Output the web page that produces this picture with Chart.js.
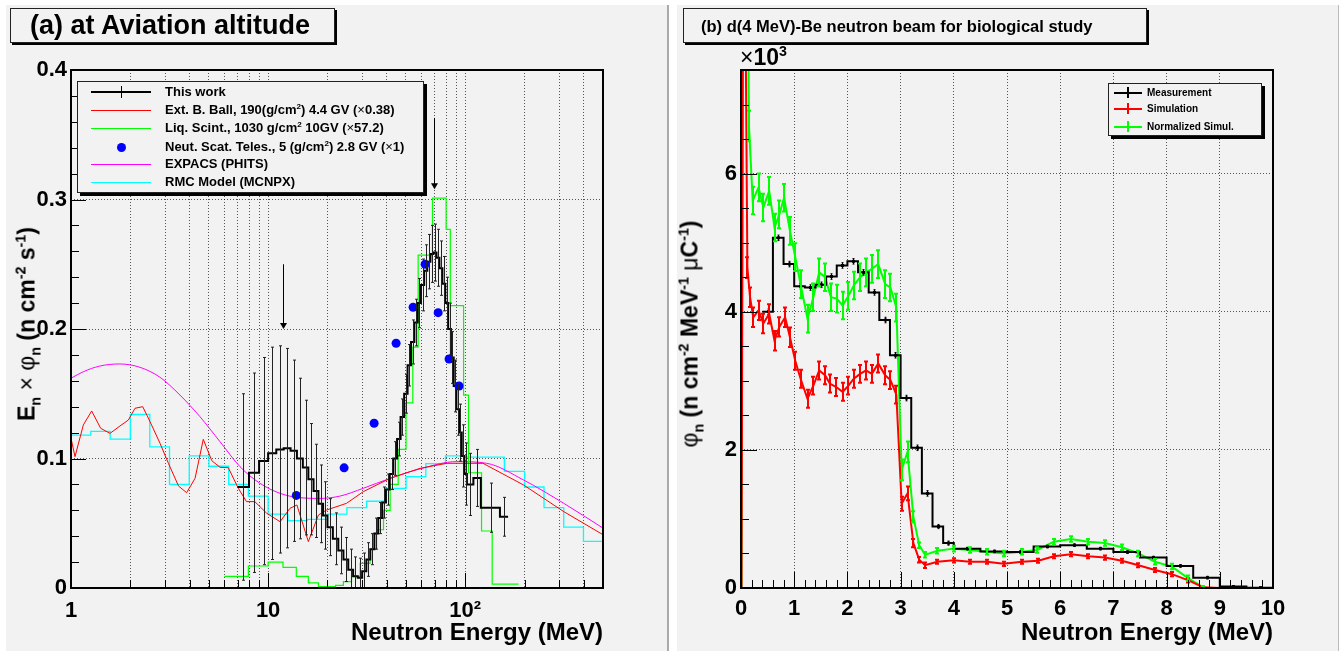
<!DOCTYPE html>
<html>
<head>
<meta charset="utf-8">
<script src="https://cdn.jsdelivr.net/npm/chart.js@4.4.1/dist/chart.umd.min.js"></script>
<style>
  body { margin: 0; width: 1342px; height: 651px; background: #fff; position: relative; overflow: hidden;
         font-family: "Liberation Sans", Arial, Helvetica, sans-serif; font-weight: bold; color: #000; }
  .pad { position: absolute; background: #f2f2f2; }
  .holder { position: absolute; top: 0; }
  .box { position: absolute; background: #f2f2f2; border: 1px solid #222; box-shadow: 2px 2px 0 #000; box-sizing: border-box; }
  .ytitle { position: absolute; white-space: nowrap; font-size: 23px; transform: translate(-50%, -50%) rotate(-90deg); }
  sub, sup { font-size: 62%; line-height: 0; }
  .sym { font-weight: normal; }
  .row { position: absolute; left: 0; right: 0; height: 18px; white-space: nowrap; }
  .ln { position: absolute; height: 0; border-top-style: solid; }
  .vt { position: absolute; width: 0; border-left-style: solid; }
  .txt { position: absolute; top: 0; }
</style>
</head>
<body>
<div class="pad" style="left:6px;top:5px;width:661px;height:646px;border-right:2px solid #aaa"></div>
<div class="pad" style="left:677px;top:5px;width:661px;height:646px;border-right:1px solid #bbb"></div>

<div class="holder" style="left:0px"><canvas id="ca" width="666" height="651"></canvas></div>
<div class="holder" style="left:666px"><canvas id="cb" width="676" height="651"></canvas></div>

<!-- titles -->
<div class="box" style="left:10px;top:8px;width:325px;height:35px">
  <div style="position:absolute;left:19px;top:1px;font-size:27px;line-height:31px">(a) at Aviation altitude</div>
</div>
<div class="box" style="left:683px;top:8px;width:464px;height:35px">
  <div style="position:absolute;left:17px;top:7px;font-size:16.5px;line-height:20px">(b) d(4 MeV)-Be neutron beam for biological study</div>
</div>

<!-- axis titles -->
<div class="ytitle" style="left:27px;top:324px">E<sub>n</sub> <span class="sym">×</span> <span class="sym">φ</span><sub>n</sub> (n cm<sup>-2</sup> s<sup>-1</sup>)</div>
<div class="ytitle" style="left:690px;top:334px"><span class="sym">φ</span><sub>n</sub> (n cm<sup>-2</sup> MeV<sup>-1</sup> <span class="sym">μ</span>C<sup>-1</sup>)</div>
<div style="position:absolute;left:740px;top:44px;font-size:23px;line-height:26px"><span class="sym">×</span>10<sup>3</sup></div>

<!-- legend (a) -->
<div class="box" style="left:77px;top:81px;width:347px;height:112px;box-shadow:3px 3px 0 #000;font-size:13px">
  <div class="row" style="top:1px;line-height:18px">
    <div class="ln" style="left:13px;top:8px;width:60px;border-top-width:2px;border-color:#000"></div>
    <div class="vt" style="left:43px;top:3px;height:12px;border-left-width:1px;border-color:#000"></div>
    <div class="txt" style="left:87px">This work</div>
  </div>
  <div class="row" style="top:19px;line-height:18px">
    <div class="ln" style="left:13px;top:9px;width:60px;border-top-width:1px;border-color:#ff0000"></div>
    <div class="txt" style="left:87px">Ext. B. Ball, 190(g/cm<sup>2</sup>) 4.4 GV (<span class="sym">×</span>0.38)</div>
  </div>
  <div class="row" style="top:37px;line-height:18px">
    <div class="ln" style="left:13px;top:9px;width:60px;border-top-width:1px;border-color:#00ff00"></div>
    <div class="txt" style="left:87px">Liq. Scint., 1030 g/cm<sup>2</sup> 10GV (<span class="sym">×</span>57.2)</div>
  </div>
  <div class="row" style="top:56px;line-height:18px">
    <div style="position:absolute;left:39px;top:5px;width:9px;height:9px;border-radius:50%;background:#0000ff"></div>
    <div class="txt" style="left:87px">Neut. Scat. Teles., 5 (g/cm<sup>2</sup>) 2.8 GV (<span class="sym">×</span>1)</div>
  </div>
  <div class="row" style="top:73px;line-height:18px">
    <div class="ln" style="left:13px;top:9px;width:60px;border-top-width:1px;border-color:#ff00ff"></div>
    <div class="txt" style="left:87px">EXPACS (PHITS)</div>
  </div>
  <div class="row" style="top:91px;line-height:18px">
    <div class="ln" style="left:13px;top:9px;width:60px;border-top-width:1px;border-color:#00ffff"></div>
    <div class="txt" style="left:87px">RMC Model (MCNPX)</div>
  </div>
</div>

<!-- legend (b) -->
<div class="box" style="left:1108px;top:83px;width:154px;height:53px;box-shadow:3px 3px 0 #000;font-size:10px">
  <div class="row" style="top:0px;line-height:18px">
    <div class="ln" style="left:5px;top:8px;width:28px;border-top-width:2px;border-color:#000"></div>
    <div class="vt" style="left:18px;top:3px;height:11px;border-left-width:2px;border-color:#000"></div>
    <div class="txt" style="left:38px">Measurement</div>
  </div>
  <div class="row" style="top:16px;line-height:18px">
    <div class="ln" style="left:5px;top:8px;width:28px;border-top-width:2px;border-color:#ff0000"></div>
    <div class="vt" style="left:18px;top:3px;height:11px;border-left-width:2px;border-color:#ff0000"></div>
    <div class="txt" style="left:38px">Simulation</div>
  </div>
  <div class="row" style="top:34px;line-height:18px">
    <div class="ln" style="left:5px;top:8px;width:28px;border-top-width:2px;border-color:#00ff00"></div>
    <div class="vt" style="left:18px;top:3px;height:11px;border-left-width:2px;border-color:#00ff00"></div>
    <div class="txt" style="left:38px">Normalized Simul.</div>
  </div>
</div>

<script>
// ---------- panel (a): at aviation altitude ----------
// This work: bin low edges (last entry = upper edge of last bin), contents, errors
var twEdges = [7, 8, 9, 10, 11, 12, 13, 14, 15, 16, 17, 18, 19, 20, 21.3, 22.7, 24.1, 25.5, 27, 28.5,
               30, 31.5, 33, 34.6, 36.2, 37.9, 39.6, 41.4, 43.2, 45.1, 47, 49, 51, 53.1, 55.2, 57.4, 59.6, 61.9, 64.2, 66.6,
               69, 71.5, 74, 76.6, 79.2, 81.9, 84.6, 87.4, 90.2, 93.1, 96, 99, 102, 110, 120, 150, 165];
var twVals = [0.078, 0.089, 0.098, 0.104, 0.107, 0.108, 0.106, 0.100, 0.093, 0.084, 0.075, 0.065, 0.056, 0.047, 0.038, 0.029, 0.022, 0.014, 0.009, 0.008,
              0.013, 0.022, 0.030, 0.042, 0.054, 0.066, 0.076, 0.088, 0.100, 0.115, 0.132, 0.150, 0.172, 0.190, 0.205, 0.220, 0.234, 0.245, 0.252, 0.258,
              0.259, 0.255, 0.247, 0.235, 0.220, 0.200, 0.178, 0.156, 0.138, 0.120, 0.102, 0.088, 0.080, 0.085, 0.062, 0.055];
var twErr = [0.072, 0.077, 0.080, 0.082, 0.080, 0.077, 0.070, 0.062, 0.052, 0.043, 0.036, 0.030, 0.026, 0.022, 0.020, 0.018, 0.017, 0.016, 0.015, 0.015,
             0.014, 0.013, 0.012, 0.012, 0.012, 0.012, 0.012, 0.012, 0.013, 0.013, 0.014, 0.015, 0.016, 0.017, 0.018, 0.019, 0.020, 0.020, 0.021, 0.022,
             0.022, 0.022, 0.021, 0.021, 0.020, 0.020, 0.020, 0.020, 0.020, 0.022, 0.024, 0.024, 0.024, 0.022, 0.019, 0.015];
// Ext. B. Ball, 190 g/cm2 (x0.38)
var bbE = [1.0, 1.048, 1.155, 1.273, 1.415, 1.577, 1.772, 1.954, 2.113, 2.311, 2.495, 2.83, 3.12, 3.51, 3.86, 4.26, 4.69, 5.18, 5.70, 6.28,
           7.06, 7.77, 8.56, 9.84, 11.5, 12.9, 14.0, 16.0, 18.0, 19.8, 25.0, 30.4, 41.6, 59, 80.7, 123, 198, 316, 502];
var bbV = [0.1156, 0.1014, 0.1259, 0.1367, 0.1233, 0.1194, 0.1251, 0.1297, 0.1388, 0.140, 0.1297, 0.1117, 0.0963, 0.0788, 0.0736, 0.0847, 0.1148, 0.0983, 0.0932, 0.0929,
           0.077, 0.0667, 0.0667, 0.0577, 0.0512, 0.0615, 0.0641, 0.0358, 0.0564, 0.0602, 0.0654, 0.0744, 0.0847, 0.0924, 0.0963, 0.0963, 0.0795, 0.059, 0.041];
// Liq. Scint. (x57.2): bin edges and contents
var lsEdges = [6.0, 7.94, 10.0, 11.9, 13.9, 16.0, 18.0, 22.0, 24.1, 26.5, 29.3, 32.9, 35.5, 38.5, 41.6, 45.7, 50.1, 54.2, 57.7, 68.2,
               80.0, 84.0, 98.1, 103.9, 121, 137, 186.5];
var lsVals = [0.009, 0.017, 0.020, 0.016, 0.009, 0.004, 0.001, 0.002, 0.005, 0.009, 0.019, 0.030, 0.045, 0.060, 0.080, 0.107, 0.143, 0.186, 0.257, 0.301,
              0.277, 0.218, 0.149, 0.089, 0.044, 0.003];
// Neut. Scat. Teles.
var ntE = [13.9, 24.3, 34.5, 44.6, 54.4, 62.6, 72.9, 82.8, 93.0];
var ntV = [0.0715, 0.0928, 0.1272, 0.189, 0.2168, 0.250, 0.2126, 0.1768, 0.156];
// EXPACS (PHITS)
var exE = [1.0, 1.155, 1.40, 1.77, 2.24, 2.83, 3.57, 4.51, 5.70, 7.20, 9.1, 11.5, 14.5, 18.3, 23.2, 30.4, 41.6, 59, 90.6, 128.5, 197.7, 316, 502];
var exV = [0.162, 0.167, 0.1714, 0.173, 0.1704, 0.1627, 0.149, 0.1323, 0.113, 0.0937, 0.0808, 0.0731, 0.0697, 0.0692, 0.071, 0.077, 0.0847, 0.092, 0.0976, 0.0963, 0.0834, 0.0654, 0.0461];
// RMC Model (MCNPX): bin edges and contents
var rmEdges = [0.794, 1, 1.26, 1.58, 2.0, 2.51, 3.16, 3.98, 5.01, 6.31, 7.94, 10, 12.6, 15.8, 20, 25.1, 31.6, 39.8, 50.1, 63.1,
               79.4, 100, 126, 158, 200, 251, 316, 398, 501];
var rmVals = [0.140, 0.118, 0.121, 0.115, 0.134, 0.109, 0.080, 0.102, 0.094, 0.080, 0.071, 0.057, 0.052, 0.053, 0.057, 0.062, 0.067, 0.077, 0.086, 0.096,
              0.102, 0.101, 0.101, 0.090, 0.078, 0.062, 0.047, 0.036];
var aYTicks = [0, 0.1, 0.2, 0.3, 0.4];
var aXLabels = {1: '1', 10: '10', 100: '10\u00b2'};
var aArrows = [{x: 11.9, from: 0.25, to: 0.2}, {x: 69.7, from: 0.363, to: 0.308}];

// ---------- panel (b): d(4 MeV)-Be neutron beam ----------
var msEdges = [0.4, 0.6, 0.8, 1.0, 1.2, 1.4, 1.6, 1.8, 2.0, 2.2, 2.4, 2.6, 2.8, 3.0, 3.2, 3.4, 3.6, 3.8, 4.0,
               4.5, 5.0, 5.5, 6.0, 6.5, 7.0, 7.5, 8.0, 8.5, 9.0, 9.5, 10.0];
var msVals = [4.00, 5.07, 4.69, 4.37, 4.35, 4.39, 4.51, 4.67, 4.73, 4.57, 4.28, 3.88, 3.37, 2.75, 2.03, 1.37, 0.89, 0.65,
              0.57, 0.53, 0.52, 0.60, 0.62, 0.57, 0.52, 0.44, 0.32, 0.15, 0.02, 0.005];
var msErr = [0.04, 0.04, 0.04, 0.04, 0.04, 0.04, 0.04, 0.04, 0.04, 0.04, 0.04, 0.04, 0.04, 0.04, 0.04, 0.04, 0.03, 0.03,
             0.02, 0.02, 0.02, 0.02, 0.02, 0.02, 0.02, 0.02, 0.02, 0.02, 0.01, 0.01];
var smE = [0.01, 0.05, 0.12, 0.17, 0.23, 0.33, 0.42, 0.53, 0.63, 0.72, 0.83, 0.92, 1.02, 1.12, 1.25, 1.36, 1.47, 1.58, 1.67, 1.79,
           1.91, 2.02, 2.12, 2.24, 2.35, 2.46, 2.58, 2.71, 2.81, 2.92, 3.02, 3.13, 3.24, 3.35, 3.46, 3.69, 4.0, 4.30, 4.62, 4.94,
           5.28, 5.59, 5.88, 6.2, 6.53, 6.84, 7.16, 7.47, 7.78, 8.10, 8.41, 8.69, 9.0, 9.5, 10.0];
var smV = [0, 12, 4.64, 4.21, 3.92, 4.02, 3.83, 3.97, 3.58, 3.78, 3.92, 3.63, 3.29, 3.03, 2.74, 2.93, 3.15, 3.08, 2.96, 2.91,
           2.84, 2.93, 3.03, 3.10, 3.15, 3.10, 3.25, 3.08, 3.01, 2.80, 1.22, 1.37, 0.65, 0.41, 0.33, 0.38, 0.40, 0.38, 0.38, 0.35,
           0.38, 0.395, 0.46, 0.49, 0.46, 0.44, 0.395, 0.33, 0.26, 0.20, 0.11, 0.01, 0, 0, 0];
var smErr = [0, 0, 0.15, 0.14, 0.14, 0.14, 0.14, 0.14, 0.14, 0.14, 0.14, 0.14, 0.13, 0.13, 0.13, 0.13, 0.13, 0.13, 0.13, 0.13,
             0.13, 0.13, 0.13, 0.13, 0.13, 0.13, 0.13, 0.13, 0.13, 0.13, 0.10, 0.10, 0.06, 0.04, 0.04, 0.03, 0.03, 0.03, 0.03, 0.03,
             0.03, 0.03, 0.03, 0.03, 0.03, 0.03, 0.03, 0.03, 0.03, 0.03, 0.03, 0.02, 0, 0, 0];
var nsE = [0.01, 0.05, 0.15, 0.22, 0.33, 0.42, 0.53, 0.63, 0.72, 0.81, 0.92, 1.02, 1.12, 1.25, 1.36, 1.47, 1.58, 1.69, 1.80, 1.91,
           2.02, 2.12, 2.24, 2.35, 2.46, 2.58, 2.71, 2.81, 2.92, 3.02, 3.13, 3.24, 3.35, 3.46, 3.69, 4.0, 4.30, 4.62, 4.94, 5.28,
           5.57, 5.88, 6.2, 6.53, 6.84, 7.16, 7.47, 7.78, 8.10, 8.41, 8.69];
var nsV = [0, 17, 6.69, 5.61, 5.80, 5.51, 5.75, 5.22, 5.41, 5.65, 5.17, 4.79, 4.40, 3.90, 4.21, 4.57, 4.50, 4.21, 4.19, 4.09,
           4.23, 4.38, 4.50, 4.57, 4.62, 4.69, 4.40, 4.35, 4.06, 1.71, 1.97, 1.03, 0.62, 0.48, 0.54, 0.57, 0.55, 0.525, 0.50, 0.525,
           0.55, 0.67, 0.71, 0.67, 0.65, 0.59, 0.50, 0.38, 0.31, 0.14, 0.01];
var nsErr = [0, 0, 0.22, 0.2, 0.2, 0.2, 0.2, 0.2, 0.2, 0.2, 0.2, 0.2, 0.2, 0.2, 0.2, 0.2, 0.2, 0.2, 0.2, 0.2,
             0.2, 0.2, 0.2, 0.2, 0.2, 0.2, 0.2, 0.2, 0.2, 0.15, 0.15, 0.08, 0.04, 0.04, 0.04, 0.04, 0.04, 0.04, 0.04, 0.04,
             0.04, 0.04, 0.04, 0.04, 0.04, 0.04, 0.04, 0.04, 0.04, 0.04, 0.02];
var bYTicks = [0, 2, 4, 6];
var bXTicks = [0, 1, 2, 3, 4, 5, 6, 7, 8, 9, 10];

// ---------- helpers ----------
var FONT = "'Liberation Sans', Arial, Helvetica, sans-serif";
function pts(xs, ys) { return xs.map(function(x, i) { return {x: x, y: ys[i]}; }); }
function steps(edges, vals) {
  var d = vals.map(function(v, i) { return {x: edges[i], y: v}; });
  d.push({x: edges[edges.length - 1], y: vals[vals.length - 1]});
  return d;
}
function range(a, b, s) { var r = []; for (var i = 0; a + i * s <= b + 1e-9; i++) r.push(+(a + i * s).toFixed(4)); return r; }

// log tick positions 1..9, 10..90, 100..500
var aXTicks = [];
for (var d = 1; d <= 100; d *= 10) for (var m = 1; m <= 9; m++) if (m * d <= 500) aXTicks.push(m * d);

var padCfg = {
  ca: { xMajor: [1, 10, 100], xMinor: aXTicks.filter(function(v) { return [1, 10, 100].indexOf(v) < 0; }),
        yMajor: aYTicks, yMinor: range(0, 0.4, 0.02), majLen: 15, minLen: 8, arrows: aArrows },
  cb: { xMajor: bXTicks, xMinor: range(0, 10, 0.2), yMajor: bYTicks, yMinor: range(0, 7.5, 0.5), majLen: 16, minLen: 8, arrows: [] }
};

function gridCol(lo, hi) {
  return function(c) {
    var v = c.tick ? c.tick.value : null;
    return (v === lo || v === hi) ? 'rgba(0,0,0,0)' : 'rgba(0,0,0,0.65)';
  };
}

// error bars, inner ticks, frame and arrows, drawn ROOT-style
var rootPad = {
  id: 'rootPad',
  afterDatasetsDraw: function(chart) {
    var ctx = chart.ctx, a = chart.chartArea, xs = chart.scales.x, ys = chart.scales.y;
    var o = padCfg[chart.canvas.id];
    ctx.save();
    ctx.beginPath(); ctx.rect(a.left, a.top, a.right - a.left, a.bottom - a.top); ctx.clip();
    chart.data.datasets.forEach(function(ds) {
      if (!ds.errY) return;
      ctx.strokeStyle = ds.errColor; ctx.fillStyle = ds.errColor; ctx.lineWidth = ds.errWidth;
      ds.errY.forEach(function(e, i) {
        var xv = ds.binEdges ? (ds.binEdges[i] + ds.binEdges[i + 1]) / 2 : ds.data[i].x;
        var yv = ds.binEdges ? ds.binVals[i] : ds.data[i].y;
        var px = Math.round(xs.getPixelForValue(xv)) + (ds.errWidth % 2 ? 0.5 : 0);
        var py = ys.getPixelForValue(yv);
        if (e > 0) {
          var t = ys.getPixelForValue(yv + e), b = ys.getPixelForValue(yv - e);
          ctx.beginPath();
          ctx.moveTo(px, t); ctx.lineTo(px, b);
          ctx.moveTo(px - ds.cap, t); ctx.lineTo(px + ds.cap, t);
          ctx.moveTo(px - ds.cap, b); ctx.lineTo(px + ds.cap, b);
          ctx.stroke();
        }
        if (ds.mark) ctx.fillRect(px - ds.mark / 2, py - ds.mark / 2, ds.mark, ds.mark);
      });
    });
    ctx.restore();

    ctx.save();
    ctx.strokeStyle = '#000'; ctx.fillStyle = '#000'; ctx.lineWidth = 1;
    ctx.beginPath();
    function xt(list, len) { list.forEach(function(v) { var p = Math.round(xs.getPixelForValue(v)) + 0.5; ctx.moveTo(p, a.bottom); ctx.lineTo(p, a.bottom - len); }); }
    function yt(list, len) { list.forEach(function(v) { var p = Math.round(ys.getPixelForValue(v)) + 0.5; ctx.moveTo(a.left, p); ctx.lineTo(a.left + len, p); }); }
    xt(o.xMinor, o.minLen); xt(o.xMajor, o.majLen);
    yt(o.yMinor, o.minLen); yt(o.yMajor, o.majLen);
    ctx.stroke();
    ctx.lineWidth = 2;
    ctx.strokeRect(a.left, a.top, a.right - a.left, a.bottom - a.top);
    o.arrows.forEach(function(ar) {
      var px = Math.round(xs.getPixelForValue(ar.x)) + 0.5;
      var y0 = ys.getPixelForValue(ar.from), y1 = ys.getPixelForValue(ar.to);
      ctx.lineWidth = 1;
      ctx.beginPath(); ctx.moveTo(px, y0); ctx.lineTo(px, y1 - 5); ctx.stroke();
      ctx.beginPath(); ctx.moveTo(px - 3.5, y1 - 6); ctx.lineTo(px + 3.5, y1 - 6); ctx.lineTo(px, y1); ctx.closePath(); ctx.fill();
    });
    ctx.restore();
  }
};

var tickFont = {family: FONT, size: 22, weight: 'bold'};
var titleFont = {family: FONT, size: 24, weight: 'bold'};

// ---------- chart (a) ----------
new Chart(document.getElementById('ca'), {
  type: 'scatter',
  data: { datasets: [
    {label: 'Neut. Scat. Teles.', data: pts(ntE, ntV), showLine: false, pointRadius: 4.5, pointBackgroundColor: '#0000ff', pointBorderWidth: 0},
    {label: 'This work', data: steps(twEdges, twVals), showLine: true, stepped: 'before', borderColor: '#000', borderWidth: 2, pointRadius: 0,
     binEdges: twEdges, binVals: twVals, errY: twErr, errColor: '#222', errWidth: 1, cap: 1.5},
    {label: 'Ext. B. Ball', data: pts(bbE, bbV), showLine: true, borderColor: '#ff0000', borderWidth: 1, pointRadius: 0},
    {label: 'Liq. Scint.', data: steps(lsEdges, lsVals), showLine: true, stepped: 'before', borderColor: '#00ff00', borderWidth: 1.2, pointRadius: 0},
    {label: 'EXPACS (PHITS)', data: pts(exE, exV), showLine: true, cubicInterpolationMode: 'monotone', borderColor: '#ff00ff', borderWidth: 1, pointRadius: 0},
    {label: 'RMC Model (MCNPX)', data: steps(rmEdges, rmVals), showLine: true, stepped: 'before', borderColor: '#00ffff', borderWidth: 1.3, pointRadius: 0}
  ]},
  options: {
    responsive: false, animation: false,
    layout: {padding: {left: 0, right: 63, top: 70, bottom: 0}},
    plugins: {legend: {display: false}, tooltip: {enabled: false}},
    scales: {
      x: {type: 'logarithmic', min: 1, max: 500,
          afterFit: function(s) { s.height = 63; },
          afterBuildTicks: function(s) { s.ticks = aXTicks.map(function(v) { return {value: v}; }); },
          ticks: {autoSkip: false, maxRotation: 0, padding: 10, color: '#000', font: tickFont,
                  callback: function(v) { return aXLabels[v] || ''; }},
          grid: {drawTicks: false, color: gridCol(1, 500), lineWidth: 1},
          border: {display: false, dash: [1, 2]},
          title: {display: true, text: 'Neutron Energy (MeV)', align: 'end', color: '#000', font: titleFont, padding: {top: 0, bottom: 3}}},
      y: {min: 0, max: 0.4,
          afterFit: function(s) { s.width = 71; },
          afterBuildTicks: function(s) { s.ticks = aYTicks.map(function(v) { return {value: v}; }); },
          ticks: {padding: 4, color: '#000', font: tickFont,
                  callback: function(v) { return v === 0 ? '0' : v.toFixed(1); }},
          grid: {drawTicks: false, color: gridCol(0, 0.4), lineWidth: 1},
          border: {display: false, dash: [1, 2]}}
    }
  },
  plugins: [rootPad]
});

// ---------- chart (b) ----------
new Chart(document.getElementById('cb'), {
  type: 'scatter',
  data: { datasets: [
    {label: 'Measurement', data: steps(msEdges, msVals), showLine: true, stepped: 'before', borderColor: '#000', borderWidth: 2, pointRadius: 0,
     binEdges: msEdges, binVals: msVals, errY: msErr, errColor: '#000', errWidth: 1, cap: 1, mark: 3},
    {label: 'Simulation', data: pts(smE, smV), showLine: true, borderColor: '#ff0000', borderWidth: 2, pointRadius: 0,
     errY: smErr, errColor: '#ff0000', errWidth: 2, cap: 2},
    {label: 'Normalized Simul.', data: pts(nsE, nsV), showLine: true, borderColor: '#00ff00', borderWidth: 2, pointRadius: 0,
     errY: nsErr, errColor: '#00ff00', errWidth: 2, cap: 2}
  ]},
  options: {
    responsive: false, animation: false,
    layout: {padding: {left: 0, right: 69, top: 70, bottom: 0}},
    plugins: {legend: {display: false}, tooltip: {enabled: false}},
    scales: {
      x: {type: 'linear', min: 0, max: 10,
          afterFit: function(s) { s.height = 63; },
          afterBuildTicks: function(s) { s.ticks = bXTicks.map(function(v) { return {value: v}; }); },
          ticks: {autoSkip: false, maxRotation: 0, padding: 8, color: '#000', font: tickFont,
                  callback: function(v) { return String(v); }},
          grid: {drawTicks: false, color: gridCol(0, 10), lineWidth: 1},
          border: {display: false, dash: [1, 2]},
          title: {display: true, text: 'Neutron Energy (MeV)', align: 'end', color: '#000', font: titleFont, padding: {top: 0, bottom: 3}}},
      y: {min: 0, max: 7.5,
          afterFit: function(s) { s.width = 75; },
          afterBuildTicks: function(s) { s.ticks = bYTicks.map(function(v) { return {value: v}; }); },
          ticks: {padding: 4, color: '#000', font: tickFont, callback: function(v) { return String(v); }},
          grid: {drawTicks: false, color: gridCol(0, 7.5), lineWidth: 1},
          border: {display: false, dash: [1, 2]}}
    }
  },
  plugins: [rootPad]
});
</script>
</body>
</html>
